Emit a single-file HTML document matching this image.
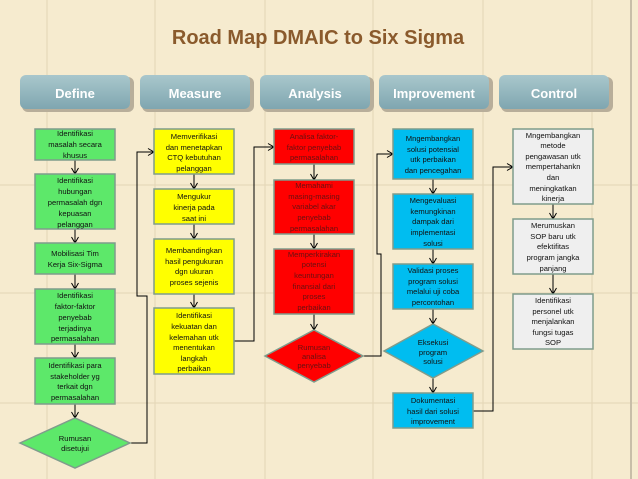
<!DOCTYPE html>
<html><head><meta charset="utf-8"><style>
body{margin:0;width:638px;height:479px;overflow:hidden;background:#f6ebcf;}
svg{display:block}
text{font-family:"Liberation Sans",sans-serif;}
.t{font-size:7.6px;fill:#111;text-anchor:middle}
.tr{font-size:7.6px;fill:#6a1010;text-anchor:middle}
.h{font-size:13px;font-weight:bold;fill:#fff;text-anchor:middle}
</style></head><body>
<svg width="638" height="479" viewBox="0 0 638 479">
<defs>
<linearGradient id="hg" x1="0" y1="0" x2="0" y2="1"><stop offset="0" stop-color="#a9c7cc"/><stop offset="1" stop-color="#7fa6b0"/></linearGradient>
<marker id="a" markerWidth="8" markerHeight="8" refX="7" refY="4" orient="auto" markerUnits="userSpaceOnUse"><path d="M1,0.5 L7,4 L1,7.5" fill="none" stroke="#000" stroke-width="1"/></marker>
</defs>
<rect width="638" height="479" fill="#f6ebcf"/>
<g stroke="#e3d6b6" stroke-width="1">
<line x1="47" y1="0" x2="47" y2="479"/><line x1="155" y1="0" x2="155" y2="479"/><line x1="265" y1="0" x2="265" y2="479"/><line x1="373" y1="0" x2="373" y2="479"/><line x1="483" y1="0" x2="483" y2="479"/><line x1="592" y1="0" x2="592" y2="479"/>
<line x1="0" y1="185" x2="638" y2="185"/><line x1="0" y1="293" x2="638" y2="293"/><line x1="0" y1="403" x2="638" y2="403"/>
</g>
<line x1="631" y1="0" x2="631" y2="479" stroke="#c8bea8" stroke-width="2"/>
<text x="318" y="44" font-size="20" font-weight="bold" fill="#8a5a2c" text-anchor="middle">Road Map DMAIC to Six Sigma</text>
<g>
<rect x="22" y="77" width="112" height="35" rx="6" fill="#b8ae9a"/><rect x="20" y="75" width="110" height="34" rx="6" fill="url(#hg)"/><text class="h" x="75" y="98">Define</text>
<rect x="142" y="77" width="112" height="35" rx="6" fill="#b8ae9a"/><rect x="140" y="75" width="110" height="34" rx="6" fill="url(#hg)"/><text class="h" x="195" y="98">Measure</text>
<rect x="262" y="77" width="112" height="35" rx="6" fill="#b8ae9a"/><rect x="260" y="75" width="110" height="34" rx="6" fill="url(#hg)"/><text class="h" x="315" y="98">Analysis</text>
<rect x="381" y="77" width="112" height="35" rx="6" fill="#b8ae9a"/><rect x="379" y="75" width="110" height="34" rx="6" fill="url(#hg)"/><text class="h" x="434" y="98">Improvement</text>
<rect x="501" y="77" width="112" height="35" rx="6" fill="#b8ae9a"/><rect x="499" y="75" width="110" height="34" rx="6" fill="url(#hg)"/><text class="h" x="554" y="98">Control</text>
</g>
<g stroke="#000" stroke-width="1" fill="none">
<line x1="75" y1="160" x2="75" y2="174" marker-end="url(#a)"/>
<line x1="75" y1="229" x2="75" y2="243" marker-end="url(#a)"/>
<line x1="75" y1="274" x2="75" y2="289" marker-end="url(#a)"/>
<line x1="75" y1="344" x2="75" y2="358" marker-end="url(#a)"/>
<line x1="75" y1="404" x2="75" y2="418" marker-end="url(#a)"/>
<line x1="194" y1="174" x2="194" y2="189" marker-end="url(#a)"/>
<line x1="194" y1="224" x2="194" y2="239" marker-end="url(#a)"/>
<line x1="194" y1="294" x2="194" y2="308" marker-end="url(#a)"/>
<line x1="314" y1="164" x2="314" y2="180" marker-end="url(#a)"/>
<line x1="314" y1="234" x2="314" y2="249" marker-end="url(#a)"/>
<line x1="314" y1="314" x2="314" y2="330" marker-end="url(#a)"/>
<line x1="433" y1="179" x2="433" y2="194" marker-end="url(#a)"/>
<line x1="433" y1="249" x2="433" y2="264" marker-end="url(#a)"/>
<line x1="433" y1="309" x2="433" y2="324" marker-end="url(#a)"/>
<line x1="433" y1="378" x2="433" y2="393" marker-end="url(#a)"/>
<line x1="553" y1="204" x2="553" y2="219" marker-end="url(#a)"/>
<line x1="553" y1="274" x2="553" y2="294" marker-end="url(#a)"/>
<polyline points="130,443 147,443 147,296 137,296 137,152 154,152" marker-end="url(#a)"/>
<polyline points="234,341 254,341 254,147 274,147" marker-end="url(#a)"/>
<polyline points="360,356 381,356 381,254 377,254 377,154 393,154" marker-end="url(#a)"/>
<polyline points="473,411 493,411 493,167 513,167" marker-end="url(#a)"/>
</g>
<g stroke="#7f9c8c" stroke-width="1.5">
<rect x="35" y="129" width="80" height="31" fill="#5de86a"/>
<rect x="35" y="174" width="80" height="55" fill="#5de86a"/>
<rect x="35" y="243" width="80" height="31" fill="#5de86a"/>
<rect x="35" y="289" width="80" height="55" fill="#5de86a"/>
<rect x="35" y="358" width="80" height="46" fill="#5de86a"/>
<polygon points="20,443 75,418 130,443 75,468" fill="#5de86a"/>
<rect x="154" y="129" width="80" height="45" fill="#ffff00"/>
<rect x="154" y="189" width="80" height="35" fill="#ffff00"/>
<rect x="154" y="239" width="80" height="55" fill="#ffff00"/>
<rect x="154" y="308" width="80" height="66" fill="#ffff00"/>
<rect x="274" y="129" width="80" height="35" fill="#ff0000"/>
<rect x="274" y="180" width="80" height="54" fill="#ff0000"/>
<rect x="274" y="249" width="80" height="65" fill="#ff0000"/>
<polygon points="265,356 314,330 363,356 314,382" fill="#ff0000"/>
<rect x="393" y="129" width="80" height="50" fill="#00bdf0"/>
<rect x="393" y="194" width="80" height="55" fill="#00bdf0"/>
<rect x="393" y="264" width="80" height="45" fill="#00bdf0"/>
<polygon points="384,351 433,324 483,351 433,378" fill="#00bdf0"/>
<rect x="393" y="393" width="80" height="35" fill="#00bdf0"/>
<rect x="513" y="129" width="80" height="75" fill="#efefef"/>
<rect x="513" y="219" width="80" height="55" fill="#efefef"/>
<rect x="513" y="294" width="80" height="55" fill="#efefef"/>
</g>
<g class="t">
<text class="t" x="75" y="136">Identifikasi</text><text class="t" x="75" y="147">masalah secara</text><text class="t" x="75" y="158">khusus</text>
<text class="t" x="75" y="183">Identifikasi</text><text class="t" x="75" y="194">hubungan</text><text class="t" x="75" y="205">permasalah dgn</text><text class="t" x="75" y="216">kepuasan</text><text class="t" x="75" y="227">pelanggan</text>
<text class="t" x="75" y="256">Mobilisasi Tim</text><text class="t" x="75" y="267">Kerja Six-Sigma</text>
<text class="t" x="75" y="298">Identifikasi</text><text class="t" x="75" y="309">faktor-faktor</text><text class="t" x="75" y="320">penyebab</text><text class="t" x="75" y="331">terjadinya</text><text class="t" x="75" y="341">permasalahan</text>
<text class="t" x="75" y="368">Identifikasi para</text><text class="t" x="75" y="379">stakeholder yg</text><text class="t" x="75" y="389">terkait dgn</text><text class="t" x="75" y="400">permasalahan</text>
<text class="t" x="75" y="441" font-size="7">Rumusan</text><text class="t" x="75" y="451" font-size="7">disetujui</text>
<text class="t" x="194" y="139">Memverifikasi</text><text class="t" x="194" y="150">dan menetapkan</text><text class="t" x="194" y="160">CTQ kebutuhan</text><text class="t" x="194" y="171">pelanggan</text>
<text class="t" x="194" y="199">Mengukur</text><text class="t" x="194" y="210">kinerja pada</text><text class="t" x="194" y="221">saat ini</text>
<text class="t" x="194" y="253">Membandingkan</text><text class="t" x="194" y="264">hasil pengukuran</text><text class="t" x="194" y="274">dgn ukuran</text><text class="t" x="194" y="285">proses sejenis</text>
<text class="t" x="194" y="318">Identifikasi</text><text class="t" x="194" y="329">kekuatan dan</text><text class="t" x="194" y="340">kelemahan utk</text><text class="t" x="194" y="350">menentukan</text><text class="t" x="194" y="361">langkah</text><text class="t" x="194" y="371">perbaikan</text>
<text class="tr" x="314" y="139">Analisa faktor-</text><text class="tr" x="314" y="150">faktor penyebab</text><text class="tr" x="314" y="160">permasalahan</text>
<text class="tr" x="314" y="188">Memahami</text><text class="tr" x="314" y="199">masing-masing</text><text class="tr" x="314" y="209">variabel akar</text><text class="tr" x="314" y="220">penyebab</text><text class="tr" x="314" y="231">permasalahan</text>
<text class="tr" x="314" y="257">Memperkirakan</text><text class="tr" x="314" y="267">potensi</text><text class="tr" x="314" y="278">keuntungan</text><text class="tr" x="314" y="289">finansial dari</text><text class="tr" x="314" y="299">proses</text><text class="tr" x="314" y="310">perbaikan</text>
<text class="tr" x="314" y="350" font-size="6.5">Rumusan</text><text class="tr" x="314" y="359" font-size="6.5">analisa</text><text class="tr" x="314" y="368" font-size="6.5">penyebab</text>
<text class="t" x="433" y="141">Mngembangkan</text><text class="t" x="433" y="152">solusi potensial</text><text class="t" x="433" y="162">utk perbaikan</text><text class="t" x="433" y="173">dan pencegahan</text>
<text class="t" x="433" y="203">Mengevaluasi</text><text class="t" x="433" y="214">kemungkinan</text><text class="t" x="433" y="224">dampak dari</text><text class="t" x="433" y="235">implementasi</text><text class="t" x="433" y="246">solusi</text>
<text class="t" x="433" y="273">Validasi proses</text><text class="t" x="433" y="284">program solusi</text><text class="t" x="433" y="294">melalui uji coba</text><text class="t" x="433" y="305">percontohan</text>
<text class="t" x="433" y="345" font-size="6.5">Eksekusi</text><text class="t" x="433" y="355" font-size="6.5">program</text><text class="t" x="433" y="364" font-size="6.5">solusi</text>
<text class="t" x="433" y="403">Dokumentasi</text><text class="t" x="433" y="414">hasil dari solusi</text><text class="t" x="433" y="424">improvement</text>
<text class="t" x="553" y="138">Mngembangkan</text><text class="t" x="553" y="148">metode</text><text class="t" x="553" y="159">pengawasan utk</text><text class="t" x="553" y="169">mempertahankn</text><text class="t" x="553" y="180">dan</text><text class="t" x="553" y="191">meningkatkan</text><text class="t" x="553" y="201">kinerja</text>
<text class="t" x="553" y="228">Merumuskan</text><text class="t" x="553" y="239">SOP baru utk</text><text class="t" x="553" y="249">efektifitas</text><text class="t" x="553" y="260">program jangka</text><text class="t" x="553" y="271">panjang</text>
<text class="t" x="553" y="303">Identifikasi</text><text class="t" x="553" y="314">personel utk</text><text class="t" x="553" y="324">menjalankan</text><text class="t" x="553" y="335">fungsi tugas</text><text class="t" x="553" y="345">SOP</text>
</g>
</svg>
</body></html>
